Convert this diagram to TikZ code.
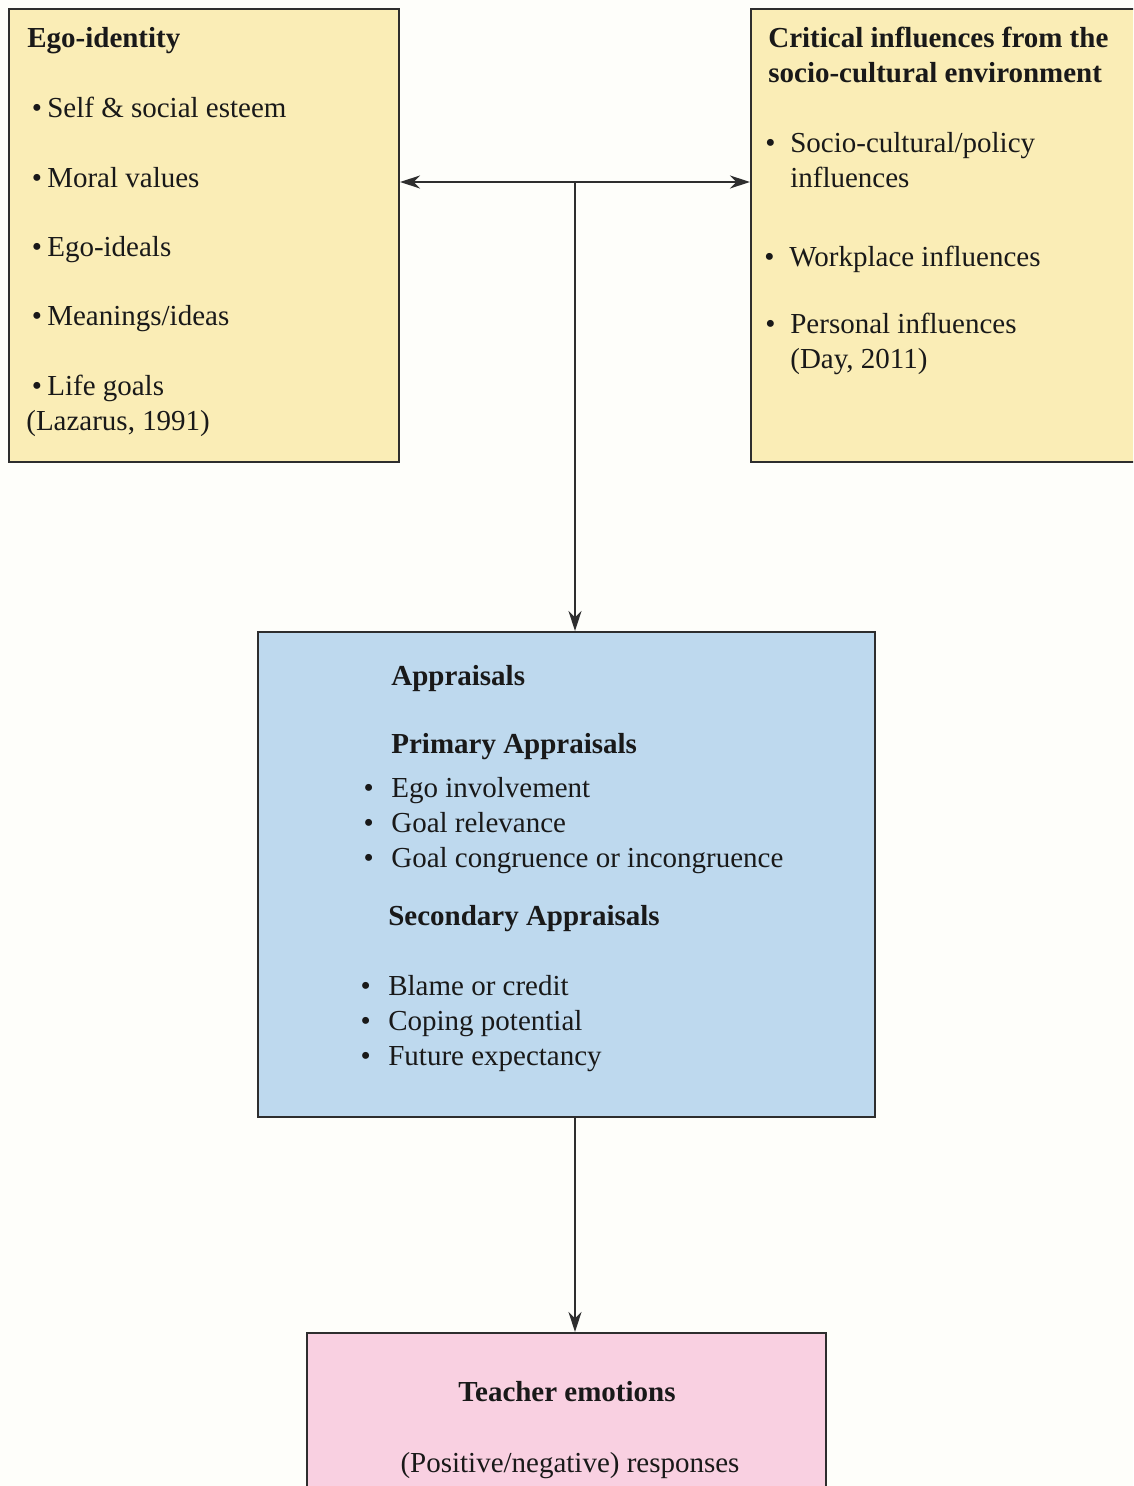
\documentclass[tikz,border=0pt]{standalone}
\usepackage{fontspec}
\setmainfont{Liberation Serif}
\usetikzlibrary{arrows.meta,positioning,calc}
\definecolor{egofill}{HTML}{FAEDB6}
\definecolor{apprfill}{HTML}{BED9EE}
\definecolor{emofill}{HTML}{F9D0E1}
\definecolor{edge}{HTML}{2E2E2E}
\definecolor{bgc}{HTML}{FEFEFA}
\tikzset{
  box/.style    = {draw=edge, line width=1.2pt, inner sep=0pt},
  egobox/.style = {box, fill=egofill},
  apprbox/.style= {box, fill=apprfill},
  emobox/.style = {box, fill=emofill},
  txt/.style    = {anchor=base west, inner sep=0pt, text=black!90},
  ttl/.style    = {txt, font=\fontsize{16.5}{20}\selectfont\bfseries},
  ar/.style     = {-{Stealth[length=4mm,width=2.6mm]}, line width=0.9pt, draw=edge},
  arr/.style    = {{Stealth[length=4mm,width=2.6mm]}-{Stealth[length=4mm,width=2.6mm]},
                   line width=0.9pt, draw=edge}
}
\newcommand{\bul}[1]{\llap{\textbullet\hspace{#1}}}

\begin{document}
\begin{tikzpicture}[x=0.02cm, y=-0.02cm, font=\fontsize{16.5}{20}\selectfont]
\useasboundingbox (0,0) rectangle (1133,1486);
\clip (0,0) rectangle (1133,1486);
\fill[bgc] (0,0) rectangle (1133,1486);

% the four boxes
\node[egobox, minimum width=7.8cm, minimum height=9.06cm] (ego) at (204,235.5) {};
\node[egobox, minimum width=7.88cm, minimum height=9.06cm] (crit) at (948,235.5) {};
\node[apprbox, minimum width=12.34cm, minimum height=9.7cm] (appr) at (566.5,874.5) {};
\node[emobox, minimum width=10.38cm, minimum height=3.54cm] (emo) at (566.5,1421.5) {};

% ego-identity
\node[ttl] (egoT) at (27,48) {Ego-identity};
\node[txt] (ego1) at (47,118) {\bul{3pt}Self \& social esteem};
\node[txt] (ego2) at (47,188) {\bul{3pt}Moral values};
\node[txt] (ego3) at (47,257) {\bul{3pt}Ego-ideals};
\node[txt] (ego4) at (47,326) {\bul{3pt}Meanings/ideas};
\node[txt] (ego5) at (47,396) {\bul{3pt}Life goals};
\node[txt] (egoR) at (26,430) {(Lazarus, 1991)};

% socio-cultural environment
\node[ttl] (critT) at (768,48) {Critical influences from the};
\node[ttl] (critT2) at (768,83) {socio-cultural environment};
\node[txt] (crit1) at (790,153) {\bul{8.5pt}Socio-cultural/policy};
\node[txt] (crit1b) at (790,188) {influences};
\node[txt] (crit2) at (789,267) {\bul{8.5pt}Workplace influences};
\node[txt] (crit3) at (790,334) {\bul{8.5pt}Personal influences};
\node[txt] (critR) at (790,369) {(Day, 2011)};

% appraisals
\node[ttl] (apprT) at (391,685) {Appraisals};
\node[ttl] (primT) at (391,753) {Primary Appraisals};
\node[txt] (prim1) at (391,797) {\bul{10pt}Ego involvement};
\node[txt] (prim2) at (391,832) {\bul{10pt}Goal relevance};
\node[txt] (prim3) at (391,867) {\bul{10pt}Goal congruence or incongruence};
\node[ttl] (secT) at (388,925) {Secondary Appraisals};
\node[txt] (sec1) at (388,995) {\bul{10pt}Blame or credit};
\node[txt] (sec2) at (388,1030) {\bul{10pt}Coping potential};
\node[txt] (sec3) at (388,1065) {\bul{10pt}Future expectancy};

% teacher emotions
\node[ttl, anchor=base] (emoT) at (567,1401) {Teacher emotions};
\node[txt, anchor=base] (emoR) at (570,1472) {(Positive/negative) responses};

% connectors
\coordinate (jn) at (575,182);
\draw[arr] (ego.east |- jn) -- (crit.west |- jn);
\draw[ar] (jn) -- (jn |- appr.north);
\draw[ar] (appr.south -| jn) -- (emo.north -| jn);
\end{tikzpicture}
\end{document}
